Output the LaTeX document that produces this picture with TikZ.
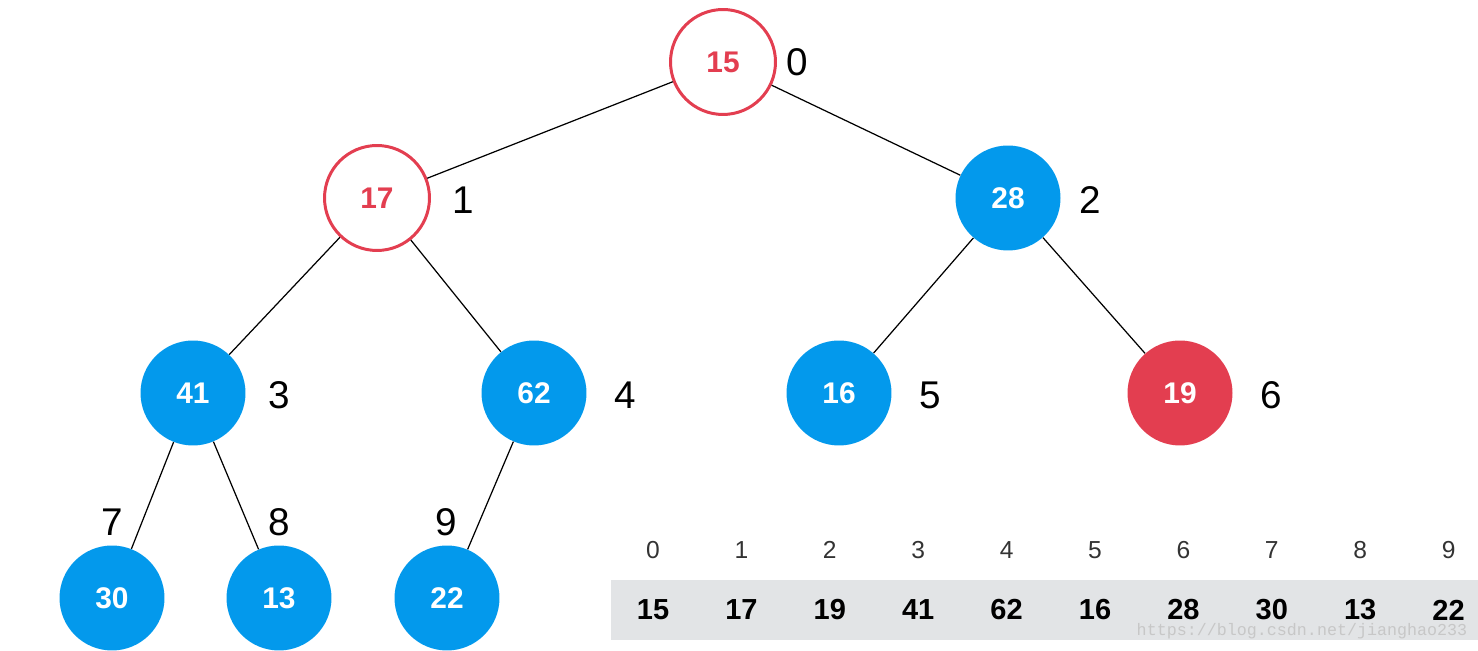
\documentclass[tikz,border=0pt]{standalone}
\usepackage{fontspec}
\setmainfont{Liberation Sans}
\newfontfamily\wmfont{Liberation Mono}
\definecolor{heapred}{RGB}{227,62,80}
\definecolor{heapblue}{RGB}{3,153,236}
\definecolor{rowgray}{RGB}{226,228,230}
\tikzset{
  px/.style={x=0.02cm,y=-0.02cm},
  key/.style={circle,minimum size=2.1cm,inner sep=0pt,font=\fontsize{17}{17}\selectfont\bfseries},
  hole/.style={key,draw=heapred,line width=1.7pt,fill=white,text=heapred},
  full/.style={key,fill=heapblue,text=white},
  hot/.style={key,fill=heapred,text=white},
  idx/.style={font=\fontsize{22}{22}\selectfont},
  edge/.style={black,line width=0.7pt}
}
\begin{document}
\begin{tikzpicture}[px]
\useasboundingbox (0,0) rectangle (1478,651);
%\draw[step=100,gray,very thin] (0,0) grid (1478,651); %background grid
\fill[rowgray] (611,580) rectangle (1478,640);
\node[text=black!22,font=\wmfont\fontsize{9.5}{9.5}\selectfont] (wm) at (1302,631) {https://blog.csdn.net/jianghao233};
% tree
\node[hole] (n0) at (723,62) {15};
\node[hole] (n1) at (377,198) {17};
\node[full] (n2) at (1008,198) {28};
\node[full] (n3) at (193,393) {41};
\node[full] (n4) at (534,393) {62};
\node[full] (n5) at (839,393) {16};
\node[hot]  (n6) at (1180,393) {19};
\node[full] (n7) at (112,598) {30};
\node[full] (n8) at (279,598) {13};
\node[full] (n9) at (447,598) {22};
\draw[edge] (n0) -- (n1);
\draw[edge] (n0) -- (n2);
\draw[edge] (n1) -- (n3);
\draw[edge] (n1) -- (n4);
\draw[edge] (n2) -- (n5);
\draw[edge] (n2) -- (n6);
\draw[edge] (n3) -- (n7);
\draw[edge] (n3) -- (n8);
\draw[edge] (n4) -- (n9);
% indices
\node[idx] (i0) at (797,62) {0};
\node[idx] (i1) at (463,200) {1};
\node[idx] (i2) at (1090,200) {2};
\node[idx] (i3) at (279,395) {3};
\node[idx] (i4) at (625,395) {4};
\node[idx] (i5) at (930,395) {5};
\node[idx] (i6) at (1271,395) {6};
\node[idx] (i7) at (112,522) {7};
\node[idx] (i8) at (279,522) {8};
\node[idx] (i9) at (446,522) {9};
% array
\foreach \v [count=\i from 0] in {15,17,19,41,62,16,28,30,13,22}{
  \node[font=\fontsize{14}{14}\selectfont,text=black!80] (a\i) at (653+88.4*\i,550) {\i};
  \node[font=\fontsize{16.5}{16.5}\selectfont\bfseries] (v\i) at (653+88.4*\i,610) {\v};
}
\end{tikzpicture}
\end{document}
